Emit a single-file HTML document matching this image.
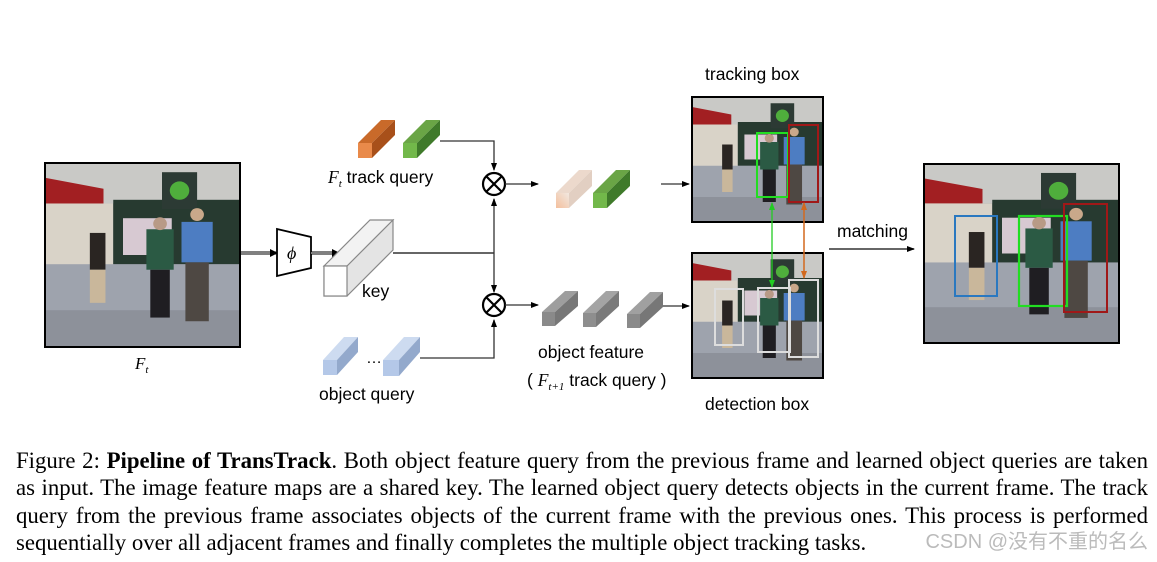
<!DOCTYPE html>
<html><head><meta charset="utf-8"><style>
html,body{margin:0;padding:0;background:#fff;}
body{width:1157px;height:562px;overflow:hidden;position:relative;}
svg{position:absolute;left:0;top:0;}
.cap{position:absolute;left:16px;top:447px;width:1132px;font-family:"Liberation Serif",serif;font-size:22.8px;line-height:27.3px;color:#000;}
.cap div{white-space:nowrap;text-align:justify;text-align-last:justify;}
.cap div.l{text-align-last:left;}
.wm{position:absolute;right:9px;top:530px;font-family:"Liberation Sans","Noto Sans CJK SC",sans-serif;font-size:20px;line-height:24px;color:#bbb;white-space:nowrap;}
</style></head><body>
<svg width="1157" height="562" viewBox="0 0 1157 562" font-family="Liberation Sans, DejaVu Sans, sans-serif">
<defs>
<symbol id="ph" viewBox="0 0 100 100" preserveAspectRatio="none">
<rect width="100" height="100" fill="#6d7079"/>
<rect width="100" height="22" fill="#c9c9c6"/>
<polygon points="0,8 30,14 30,24 0,22" fill="#a21f22"/>
<rect x="0" y="22" width="35" height="35" fill="#d9d3c8"/>
<rect x="35" y="20" width="65" height="35" fill="#273a30"/>
<rect x="40" y="30" width="25" height="20" fill="#d7c9d2"/>
<rect x="60" y="5" width="18" height="20" fill="#2c3a34"/>
<circle cx="69" cy="15" r="5" fill="#4fae3c"/>
<rect x="0" y="55" width="100" height="45" fill="#9ea3ad"/>
<rect x="0" y="80" width="100" height="20" fill="#8d919a"/>
<rect x="23" y="38" width="8" height="20" fill="#2a2522"/><rect x="23" y="58" width="8" height="18" fill="#c9b79b"/>
<rect x="52" y="36" width="14" height="22" fill="#2b5a44"/><rect x="54" y="58" width="10" height="26" fill="#1f1e22"/>
<circle cx="59" cy="33" r="3.5" fill="#b89a86"/>
<rect x="70" y="32" width="16" height="22" fill="#4d7dc2"/><rect x="72" y="54" width="12" height="32" fill="#4e4843"/>
<circle cx="78" cy="28" r="3.5" fill="#c9a88a"/>
</symbol>
<marker id="ar" markerWidth="8" markerHeight="8" refX="7" refY="4" orient="auto" markerUnits="userSpaceOnUse"><path d="M0,1 L8,4 L0,7z" fill="#000"/></marker>
<marker id="ag" markerWidth="8" markerHeight="8" refX="7" refY="4" orient="auto-start-reverse" markerUnits="userSpaceOnUse"><path d="M0,1 L8,4 L0,7z" fill="#2c2"/></marker>
<marker id="ao" markerWidth="8" markerHeight="8" refX="7" refY="4" orient="auto-start-reverse" markerUnits="userSpaceOnUse"><path d="M0,1 L8,4 L0,7z" fill="#d2691e"/></marker>
<linearGradient id="fo" x1="0" y1="1" x2="1" y2="0"><stop offset="0" stop-color="#f3bf9d"/><stop offset="1" stop-color="#f2e8e0"/></linearGradient>
</defs>

<use href="#ph" x="45" y="163" width="195" height="184"/>
<rect x="45" y="163" width="195" height="184" fill="none" stroke="#000" stroke-width="2"/>
<text x="135" y="369" font-family="Liberation Serif, serif" font-style="italic" font-size="17">F<tspan font-size="11" dy="4">t</tspan></text>

<line x1="241" y1="253" x2="276" y2="253" stroke="#000" stroke-width="3"/>
<line x1="241" y1="253" x2="276" y2="253" stroke="#fff" stroke-width="1"/>
<path d="M270,249 L278,253 L270,257z"/>
<polygon points="277,229 311,237 311,268 277,276" fill="#fff" stroke="#000" stroke-width="1.8"/>
<text x="287" y="259" font-family="Liberation Serif, serif" font-style="italic" font-size="18">ϕ</text>
<line x1="311" y1="253" x2="336" y2="253" stroke="#000" stroke-width="3"/>
<line x1="311" y1="253" x2="336" y2="253" stroke="#fff" stroke-width="1"/>
<path d="M332,249 L340,253 L332,257z"/>

<polygon points="324,266 393,220 393,250 347,296 324,296" fill="#e4e4e4" stroke="#888" stroke-width="1.2"/>
<polygon points="324,266 370,220 393,220 347,266" fill="#f2f2f2" stroke="#888" stroke-width="1.2"/>
<rect x="324" y="266" width="23" height="30" fill="#fff" stroke="#888" stroke-width="1.2"/>
<text x="362" y="297" font-size="17.5">key</text>

<line x1="393" y1="253" x2="494" y2="253" stroke="#333" stroke-width="1.5"/>
<line x1="494" y1="253" x2="494" y2="199" stroke="#333" stroke-width="1.3" marker-end="url(#ar)"/>
<line x1="494" y1="253" x2="494" y2="292" stroke="#333" stroke-width="1.3" marker-end="url(#ar)"/>

<polygon points="358,143 381,120 395,120 372,143" fill="#c96a2a"/>
<polygon points="372,143 395,120 395,135 372,158" fill="#a8501a"/>
<rect x="358" y="143" width="14" height="15" fill="#e98a4a"/>
<polygon points="403,143 426,120 440,120 417,143" fill="#6aa546"/>
<polygon points="417,143 440,120 440,135 417,158" fill="#3f7a2a"/>
<rect x="403" y="143" width="14" height="15" fill="#72b84a"/>
<text x="328" y="183" font-size="17.5"><tspan font-family="Liberation Serif, serif" font-style="italic">F</tspan><tspan font-family="Liberation Serif, serif" font-style="italic" font-size="11" dy="4">t</tspan><tspan dy="-4"> track query</tspan></text>
<polyline points="440,141 494,141 494,170" fill="none" stroke="#333" stroke-width="1.3" marker-end="url(#ar)"/>

<g stroke="#000" stroke-width="2.2" fill="#fff">
<circle cx="494" cy="184" r="11"/>
<line x1="486" y1="176" x2="502" y2="192"/><line x1="502" y1="176" x2="486" y2="192"/>
<circle cx="494" cy="305" r="11"/>
<line x1="486" y1="297" x2="502" y2="313"/><line x1="502" y1="297" x2="486" y2="313"/>
</g>
<line x1="505" y1="184" x2="538" y2="184" stroke="#333" stroke-width="1.3" marker-end="url(#ar)"/>
<line x1="505" y1="305" x2="538" y2="305" stroke="#333" stroke-width="1.3" marker-end="url(#ar)"/>

<polygon points="556,193 579,170 592,170 569,193" fill="#ecd9cc"/>
<polygon points="569,193 592,170 592,186 569,208" fill="#e2cfc2"/>
<rect x="556" y="193" width="13" height="15" fill="url(#fo)"/>
<polygon points="593,193 616,170 630,170 607,193" fill="#6aa546"/>
<polygon points="607,193 630,170 630,186 607,208" fill="#3f7a2a"/>
<rect x="593" y="193" width="14" height="15" fill="#72b84a"/>
<line x1="661" y1="184" x2="689" y2="184" stroke="#333" stroke-width="1.3" marker-end="url(#ar)"/>

<polygon points="542,312 565,291 578,291 555,312" fill="#9e9e9e"/><polygon points="555,312 578,291 578,306 555,326" fill="#777"/><rect x="542" y="312" width="13" height="14" fill="#8a8a8a"/>
<polygon points="583,313 606,291 619,291 596,313" fill="#a4a4a4"/><polygon points="596,313 619,291 619,306 596,327" fill="#7a7a7a"/><rect x="583" y="313" width="13" height="14" fill="#8e8e8e"/>
<polygon points="627,314 650,292 663,292 640,314" fill="#a0a0a0"/><polygon points="640,314 663,292 663,307 640,328" fill="#777"/><rect x="627" y="314" width="13" height="14" fill="#8a8a8a"/>
<line x1="663" y1="306" x2="689" y2="306" stroke="#333" stroke-width="1.3" marker-end="url(#ar)"/>
<text x="538" y="358" font-size="17.5">object feature</text>
<text x="527" y="386" font-size="17.5">( <tspan font-family="Liberation Serif, serif" font-style="italic">F</tspan><tspan font-family="Liberation Serif, serif" font-style="italic" font-size="11" dy="4">t+1</tspan><tspan dy="-4"> track query )</tspan></text>

<polygon points="323,360 344,337 358,337 337,360" fill="#cddbf0"/><polygon points="337,360 358,337 358,352 337,375" fill="#93a9cc"/><rect x="323" y="360" width="14" height="15" fill="#b4c8e8"/>
<text x="366" y="363" font-size="16">…</text>
<polygon points="383,360 404,337 420,337 399,360" fill="#cddbf0"/><polygon points="399,360 420,337 420,352 399,376" fill="#93a9cc"/><rect x="383" y="360" width="16" height="16" fill="#b4c8e8"/>
<polyline points="420,358 494,358 494,320" fill="none" stroke="#333" stroke-width="1.3" marker-end="url(#ar)"/>
<text x="319" y="400" font-size="17.5">object query</text>

<text x="705" y="80" font-size="17.5">tracking box</text>
<use href="#ph" x="692" y="97" width="131" height="125"/>
<rect x="692" y="97" width="131" height="125" fill="none" stroke="#000" stroke-width="2"/>
<rect x="757" y="133" width="31" height="64" fill="none" stroke="#2d2" stroke-width="2"/>
<rect x="789" y="125" width="29" height="77" fill="none" stroke="#a01818" stroke-width="2"/>

<use href="#ph" x="692" y="253" width="131" height="125"/>
<rect x="692" y="253" width="131" height="125" fill="none" stroke="#000" stroke-width="2"/>
<rect x="715" y="289" width="28" height="56" fill="none" stroke="#ddd" stroke-width="2"/>
<rect x="758" y="288" width="32" height="64" fill="none" stroke="#ddd" stroke-width="2"/>
<rect x="789" y="280" width="29" height="77" fill="none" stroke="#ddd" stroke-width="2"/>
<text x="705" y="410" font-size="17.5">detection box</text>

<line x1="772" y1="203" x2="772" y2="287" stroke="#2c2" stroke-width="1.3" marker-start="url(#ag)" marker-end="url(#ag)"/>
<line x1="804" y1="203" x2="804" y2="278" stroke="#d2691e" stroke-width="1.5" marker-start="url(#ao)" marker-end="url(#ao)"/>

<text x="837" y="237" font-size="17.5">matching</text>
<line x1="829" y1="249" x2="914" y2="249" stroke="#333" stroke-width="1.5" marker-end="url(#ar)"/>

<use href="#ph" x="924" y="164" width="195" height="179"/>
<rect x="924" y="164" width="195" height="179" fill="none" stroke="#000" stroke-width="2"/>
<rect x="955" y="216" width="42" height="80" fill="none" stroke="#2a78c0" stroke-width="2"/>
<rect x="1019" y="216" width="48" height="90" fill="none" stroke="#2d2" stroke-width="2.2"/>
<rect x="1064" y="204" width="43" height="108" fill="none" stroke="#a01818" stroke-width="2"/>
</svg>
<div class="cap">
<div>Figure 2: <b>Pipeline of TransTrack</b>. Both object feature query from the previous frame and learned object queries are taken</div>
<div>as input. The image feature maps are a shared key. The learned object query detects objects in the current frame. The track</div>
<div>query from the previous frame associates objects of the current frame with the previous ones. This process is performed</div>
<div class="l">sequentially over all adjacent frames and finally completes the multiple object tracking tasks.</div>
</div>
<div class="wm">CSDN @没有不重的名么</div>
</body></html>
